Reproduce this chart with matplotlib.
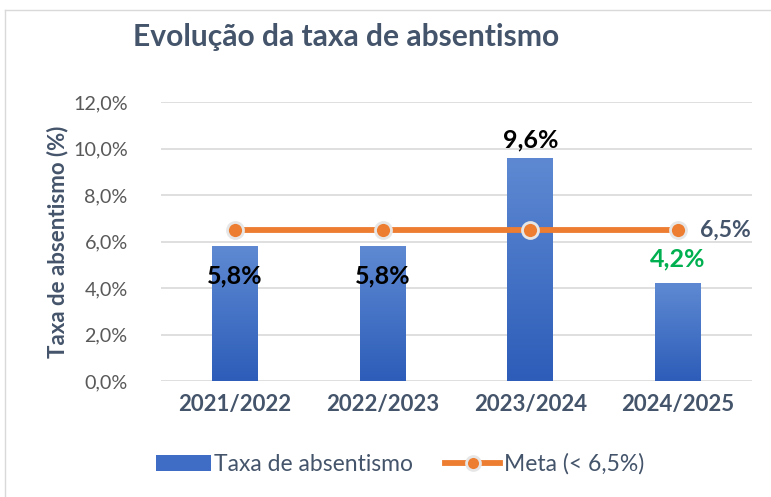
import numpy as np
import matplotlib.pyplot as plt
from matplotlib.lines import Line2D
from matplotlib.patches import Rectangle
from matplotlib.colors import LinearSegmentedColormap
from matplotlib.ticker import FuncFormatter

plt.rcParams['font.family'] = ['Lato', 'DejaVu Sans']

# dados
anos = ['2021/2022', '2022/2023', '2023/2024', '2024/2025']
taxa = [5.8, 5.8, 9.6, 4.2]
meta = [6.5, 6.5, 6.5, 6.5]
cor_rotulo = ['black', 'black', 'black', '#00B050']
desloc = [-1.3, -1.3, 0.77, 1.05]

escuro = '#44546A'
laranja = '#ED7D31'

fig = plt.figure(figsize=(7.71, 4.97), dpi=100)
ax = fig.add_axes([161 / 771, 116 / 497, 591 / 771, 279 / 497])

# moldura do gráfico
fig.add_artist(Line2D([5 / 771, 5 / 771], [0, 1 - 10 / 497], color='#D9D9D9', lw=1))
fig.add_artist(Line2D([5 / 771, 1], [1 - 10 / 497, 1 - 10 / 497], color='#D9D9D9', lw=1))

x = np.arange(len(anos))
larg = 0.31
barras = ax.bar(x, taxa, width=larg, color='#4472C4', zorder=2)

# gradiente vertical nas barras
grad = LinearSegmentedColormap.from_list('g', ['#2D5DB9', '#5E89D2'])
for b in barras:
    x0, y0 = b.get_x(), b.get_y()
    w, h = b.get_width(), b.get_height()
    img = ax.imshow(np.linspace(0, 1, 100).reshape(-1, 1), cmap=grad, origin='lower',
                    extent=[x0, x0 + w, y0, y0 + h], aspect='auto', zorder=2)
    img.set_clip_path(b)
    b.set_facecolor('none')

ax.plot(x, meta, color=laranja, lw=4.2, marker='o', markersize=11.5,
        markerfacecolor=laranja, markeredgecolor='#E7E6E6', markeredgewidth=2, zorder=3)

# rótulos dos valores
for i, v in enumerate(taxa):
    txt = f'{v:.1f}%'.replace('.', ',')
    ax.text(x[i], v + desloc[i], txt, ha='center', va='center', fontsize=18,
            fontweight='bold', color=cor_rotulo[i], zorder=4)
ax.text(x[-1] + 0.15, meta[-1], f'{meta[-1]:.1f}%'.replace('.', ','), ha='left',
        va='center', fontsize=16.5, fontweight='bold', color=escuro, zorder=4)

ax.set_ylim(0, 12)
ax.set_xlim(-0.5, 3.5)
ax.set_yticks(np.arange(0, 12.1, 2))
ax.yaxis.set_major_formatter(FuncFormatter(lambda v, p: f'{v:.1f}%'.replace('.', ',')))
ax.grid(axis='y', color='#D9D9D9', lw=1.2, zorder=0)
ax.set_axisbelow(True)
for s in ax.spines.values():
    s.set_visible(False)
ax.tick_params(axis='both', length=0)
ax.tick_params(axis='y', labelsize=14.2, labelcolor='#595959', pad=24)
ax.set_xticks(x)
ax.set_xticklabels(anos, fontsize=16, fontweight='bold', color=escuro)
ax.tick_params(axis='x', pad=9)

ax.set_ylabel('Taxa de absentismo (%)', fontsize=16, fontweight='bold', color=escuro, labelpad=3)

fig.text(133 / 771, 1 - 37 / 497, 'Evolução da taxa de absentismo', fontsize=21.6,
         fontweight='bold', color=escuro, ha='left', va='center')

# legenda
h1 = Rectangle((0, 0), 1, 1, facecolor='#3F6CC4')
h2 = Line2D([], [], color=laranja, lw=4.2, marker='o', markersize=10,
            markerfacecolor=laranja, markeredgecolor='#E7E6E6', markeredgewidth=2)
fig.legend([h1, h2], ['Taxa de absentismo', 'Meta (< 6,5%)'], loc='center',
           bbox_to_anchor=(400 / 771, 1 - 464 / 497), ncol=2, frameon=False,
           fontsize=16.5, labelcolor=escuro, handlelength=2.4, handletextpad=0.15,
           columnspacing=1.4)

fig.savefig('out.png', dpi=100)
